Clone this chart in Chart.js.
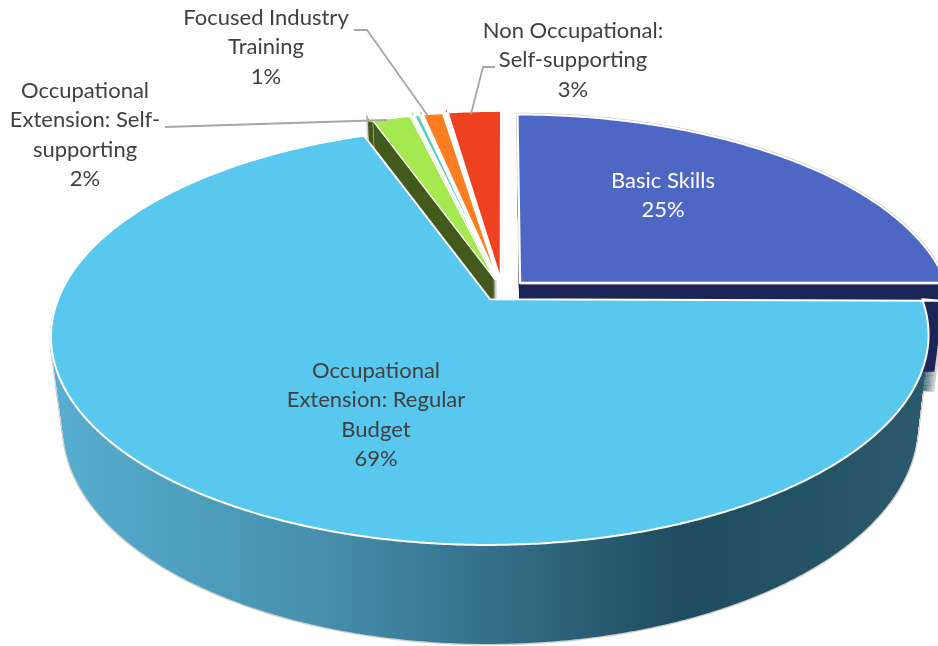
<!DOCTYPE html>
<html>
<head>
<meta charset="utf-8">
<title>Enrollment by program</title>
<script src="https://cdn.jsdelivr.net/npm/chart.js@4"></script>
<style>
  html, body { margin: 0; padding: 0; background: #fff; overflow: hidden; }
  canvas { display: block; }
</style>
</head>
<body>
<canvas id="pie" width="938" height="646"></canvas>
<script>
// Chart data
const categories = [
  'Basic Skills',
  'Occupational Extension: Regular Budget',
  'Occupational Extension: Self-supporting',
  '',
  'Focused Industry Training',
  'Non Occupational: Self-supporting',
];
const shares = [25, 69.4, 1.8, 0.35, 1.0, 2.45];

// Label text, already wrapped the way the original wraps it
const labelLines = [
  ['Basic Skills'],
  ['Occupational', 'Extension: Regular', 'Budget'],
  ['Occupational', 'Extension: Self-', 'supporting'],
  [],
  ['Focused Industry', 'Training'],
  ['Non Occupational:', 'Self-supporting'],
];
const labelPercents = ['25%', '69%', '2%', '', '1%', '3%'];

// Styling
const topColors = ['#4f67c4', '#59c8ef', '#a5e84f', '#55cdb8', '#fc7e20', '#ee4120'];
const wallColors = ['#1e2658', 'gradient', '#425a1c', null, null, null];
const labelColors = ['#ffffff', '#404040', '#404040', '#404040', '#404040', '#404040'];
const labelX = [663, 376, 85, 0, 266, 573];
const labelY = [181, 371, 91, 0, 18, 31];
const leaders = [
  [[165, 127], [387, 120]],
  [[354, 30], [367, 30], [428, 116]],
  [[495, 67], [483, 67], [471, 114]],
];
const RADIUS = 200;
// slice explosion, chart.js applies a quarter of this along the mid angle
const explode = [47, 40, 48, 49, 50, 52];
const drawOrder = [0, 5, 4, 3, 2, 1];
const wallOrder = [1, 0, 2];

// Perspective of the pie plane
const VIEW = { x: 502.5, y: 291, a: 429, b: 200, p: 0.173, depth: 99, shrink: 0.027, vanishX: 518 };

function project(u, v, depth) {
  const w = 1 - VIEW.p * v;
  let x = VIEW.x + VIEW.a * u / w;
  let y = VIEW.y + VIEW.b * v / w;
  if (depth) {
    const k = 0.9 + (y - 285) / 2600;
    x = VIEW.vanishX + (x - VIEW.vanishX) * (1 - VIEW.shrink * depth / VIEW.depth);
    y += depth * k;
  }
  return [x, y];
}

// Hands the arc element a context whose path calls go through the perspective
function viewCtx(ctx, arc, depth) {
  let ox = 0, oy = 0, traced = false;
  const stack = [];
  const put = (x, y, fn) => {
    const p = project((x + ox - arc.x) / RADIUS, (y + oy - arc.y) / RADIUS, depth);
    ctx[fn](p[0], p[1]);
  };
  const own = {
    save() { stack.push([ox, oy]); ctx.save(); },
    restore() { [ox, oy] = stack.pop(); ctx.restore(); },
    translate(dx, dy) { ox += dx; oy += dy; },
    beginPath() { traced = false; ctx.beginPath(); },
    moveTo(x, y) { put(x, y, 'moveTo'); },
    lineTo(x, y) { put(x, y, 'lineTo'); },
    // chart.js trims the angles of offset arcs, the real slice angles are used here.
    // only the first arc of a path is the rim, the tip comes from lineTo
    arc(x, y) {
      if (traced) return;
      traced = true;
      const a0 = arc.startAngle, a1 = arc.endAngle;
      const n = Math.max(2, Math.ceil((a1 - a0) / 0.008));
      for (let i = 0; i <= n; i++) {
        const a = a0 + (a1 - a0) * i / n;
        put(x + RADIUS * Math.cos(a), y + RADIUS * Math.sin(a), 'lineTo');
      }
    },
  };
  return new Proxy(ctx, {
    get(t, k) {
      if (own[k]) return own[k];
      const v = t[k];
      return typeof v === 'function' ? v.bind(t) : v;
    },
    set(t, k, v) { t[k] = v; return true; },
  });
}

function drawArc(ctx, arc, depth, style) {
  const copy = Object.create(arc);
  copy.options = { ...arc.options, borderJoinStyle: 'round', ...style };
  copy.draw(viewCtx(ctx, arc, depth));
}

function wallGradient(ctx) {
  const g = ctx.createLinearGradient(50, 0, 930, 0);
  g.addColorStop(0, '#57afd1');
  g.addColorStop(0.3, '#4790ae');
  g.addColorStop(0.72, '#1f4c5f');
  g.addColorStop(1, '#2b5a6c');
  return g;
}

const solidPie = {
  id: 'solidPie',
  beforeDatasetsDraw(chart) {
    const ctx = chart.ctx;
    const arcs = chart.getDatasetMeta(0).data;
    const grad = wallGradient(ctx);
    const fillOf = i => (wallColors[i] === 'gradient' ? grad : wallColors[i]);

    // soft grey silhouette first, then the walls over it
    [1, 2].forEach(i => {
      for (let d = VIEW.depth; d >= 1; d -= 1) {
        drawArc(ctx, arcs[i], d, { backgroundColor: fillOf(i), borderColor: '#cfcfcf', borderWidth: 2.8 });
      }
    });
    wallOrder.forEach(i => {
      for (let d = VIEW.depth; d >= 1; d -= 1) {
        drawArc(ctx, arcs[i], d, { backgroundColor: fillOf(i), borderWidth: 0 });
      }
    });

    drawArc(ctx, arcs[0], 0, { borderColor: '#cdcdcd', borderWidth: 3.4 });
    drawOrder.forEach(i => {
      drawArc(ctx, arcs[i], 0, { borderColor: '#ffffff', borderWidth: i === 0 || i === 1 ? 2 : 1.4 });
    });
    return false;
  },
  afterDraw(chart) {
    const ctx = chart.ctx;
    ctx.save();
    ctx.strokeStyle = '#a6a6a6';
    ctx.lineWidth = 1.8;
    leaders.forEach(line => {
      ctx.beginPath();
      line.forEach((p, i) => (i ? ctx.lineTo(p[0], p[1]) : ctx.moveTo(p[0], p[1])));
      ctx.stroke();
    });
    ctx.font = '22px Lato';
    ctx.textAlign = 'center';
    ctx.textBaseline = 'middle';
    labelLines.forEach((lines, i) => {
      if (!lines.length) return;
      ctx.fillStyle = labelColors[i];
      const rows = [...lines, labelPercents[i]];
      rows.forEach((row, r) => ctx.fillText(row, labelX[i], labelY[i] + r * 29.4));
    });
    ctx.restore();
  },
};

new Chart(document.getElementById('pie'), {
  type: 'pie',
  data: {
    labels: categories,
    datasets: [{
      data: shares,
      backgroundColor: topColors,
      borderColor: '#ffffff',
      borderWidth: 2,
      offset: explode,
    }],
  },
  options: {
    responsive: false,
    animation: false,
    radius: RADIUS,
    plugins: {
      legend: { display: false },
      tooltip: { enabled: false },
    },
  },
  plugins: [solidPie],
});
</script>
</body>
</html>
